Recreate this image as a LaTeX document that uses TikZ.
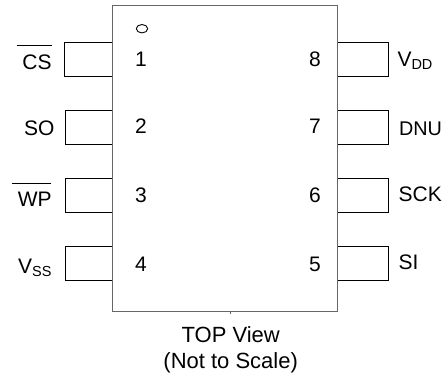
\documentclass[tikz,border=0pt]{standalone}
\usepackage{fontspec}
\setmainfont{Liberation Sans}
\tikzset{
  x=1pt,y=-1pt,
  body/.style={draw=black!60,line width=1pt},
  pinbox/.style={line width=0.7pt,draw=black},
  lbl/.style={font=\fontsize{21}{24}\selectfont,inner sep=0pt,anchor=base},
  caption/.style={font=\fontsize{22}{24}\selectfont,inner sep=0pt,anchor=base}
}
\newcommand{\ssub}[1]{\raisebox{-3.2pt}{\fontsize{14.5}{16}\selectfont #1}}
\begin{document}
\begin{tikzpicture}
\useasboundingbox (0,0) rectangle (443,375);
\draw[body] (112,5.5) rectangle (337,311.5);
\draw[body] (230,311.5) -- (230,314);
\draw[line width=0.9pt] (142,28.7) ellipse (5.7 and 4.2);
% left pins
\draw[pinbox] (112,42.5) -- (64.5,42.5) -- (64.5,76) -- (112,76);
\draw[pinbox] (112,110.5) -- (65.5,110.5) -- (65.5,144) -- (112,144);
\draw[pinbox] (112,178.5) -- (65.5,178.5) -- (65.5,212) -- (112,212);
\draw[pinbox] (112,246.5) -- (65.5,246.5) -- (65.5,280) -- (112,280);
% right pins
\draw[pinbox] (338,42.5) -- (388,42.5) -- (388,76) -- (338,76);
\draw[pinbox] (338,110.5) -- (388,110.5) -- (388,144) -- (338,144);
\draw[pinbox] (338,178.5) -- (388,178.5) -- (388,212) -- (338,212);
\draw[pinbox] (338,246.5) -- (388,246.5) -- (388,280) -- (338,280);
% numbers
\node[lbl] (n1) at (141,66.7) {1};
\node[lbl] (n2) at (141,133.3) {2};
\node[lbl] (n3) at (141,202.3) {3};
\node[lbl] (n4) at (141,271) {4};
\node[lbl] (n8) at (315,66.7) {8};
\node[lbl] (n7) at (315,133.3) {7};
\node[lbl] (n6) at (315,202.3) {6};
\node[lbl] (n5) at (315,271) {5};
% signal labels
\node[lbl] (cs) at (37,69) {CS};
\draw[line width=0.8pt] (16.7,45.7) -- (51.7,45.7);
\node[lbl] (so) at (39.3,135) {SO};
\node[lbl] (wp) at (34.7,206) {WP};
\draw[line width=0.8pt] (11.7,183.6) -- (50.7,183.6);
\node[lbl,anchor=base west] (vss) at (18,273) {V\ssub{SS}};
\node[lbl,anchor=base west] (vdd) at (397.3,66.7) {V\ssub{DD}};
\node[lbl,anchor=base west,font=\fontsize{19.8}{24}\selectfont] (dnu) at (398.8,135) {DNU};
\node[lbl,anchor=base west] (sck) at (398.5,201.7) {SCK};
\node[lbl,anchor=base west] (si) at (398.5,269) {SI};
\node[caption] (top) at (230.7,342.7) {TOP View};
\node[caption] (nts) at (230.7,368) {(Not to Scale)};
\end{tikzpicture}
\end{document}
